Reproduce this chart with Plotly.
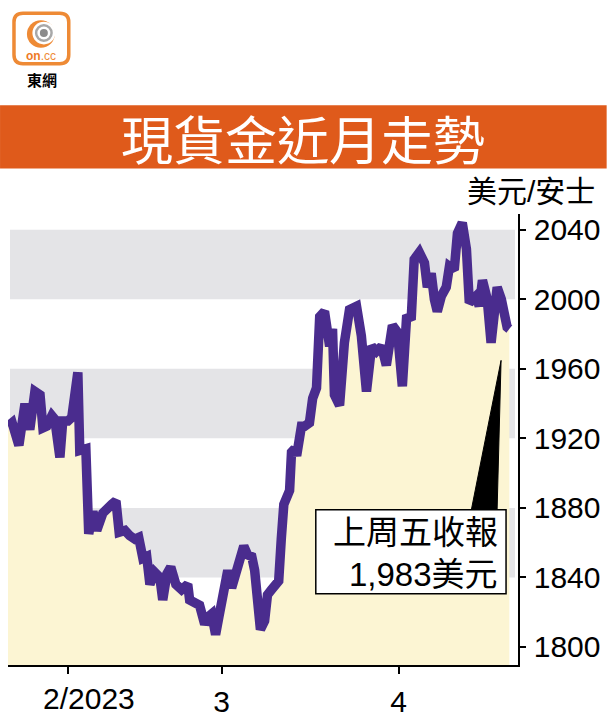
import plotly.graph_objects as go

# ---- data ----
times = [
    "2023-01-20 05:00", "2023-01-20 18:00", "2023-01-23 15:00", "2023-01-24 01:00", "2023-01-24 10:00",
    "2023-01-25 01:00", "2023-01-25 17:00", "2023-01-26 09:00", "2023-01-26 18:00", "2023-01-27 06:00",
    "2023-01-27 22:00", "2023-01-30 07:00", "2023-01-30 23:00", "2023-01-31 08:00", "2023-02-01 00:00",
    "2023-02-01 12:00", "2023-02-02 01:00", "2023-02-02 07:00", "2023-02-02 13:00", "2023-02-03 08:00",
    "2023-02-03 17:00", "2023-02-06 06:00", "2023-02-06 18:00", "2023-02-07 13:00", "2023-02-08 17:00",
    "2023-02-09 06:00", "2023-02-09 16:00", "2023-02-10 10:00", "2023-02-13 01:00", "2023-02-13 17:00",
    "2023-02-14 05:00", "2023-02-14 18:00", "2023-02-15 06:00", "2023-02-15 16:00", "2023-02-16 07:00",
    "2023-02-16 23:00", "2023-02-17 08:00", "2023-02-17 21:00", "2023-02-20 09:00", "2023-02-21 01:00",
    "2023-02-21 19:00", "2023-02-22 14:00", "2023-02-22 20:00", "2023-02-23 12:00", "2023-02-24 03:00",
    "2023-02-24 19:00", "2023-02-27 04:00", "2023-02-27 17:00", "2023-02-28 05:00", "2023-02-28 15:00",
    "2023-03-01 06:00", "2023-03-01 19:00", "2023-03-02 07:00", "2023-03-02 20:00", "2023-03-03 08:00",
    "2023-03-03 21:00", "2023-03-06 09:00", "2023-03-06 22:00", "2023-03-07 07:00", "2023-03-07 16:00",
    "2023-03-08 01:00", "2023-03-08 14:00", "2023-03-08 23:00", "2023-03-09 12:00", "2023-03-10 00:00",
    "2023-03-10 10:00", "2023-03-10 18:00", "2023-03-13 02:00", "2023-03-13 20:00", "2023-03-14 02:00",
    "2023-03-14 12:00", "2023-03-14 18:00", "2023-03-15 09:00", "2023-03-15 19:00", "2023-03-16 10:00",
    "2023-03-16 20:00", "2023-03-17 08:00", "2023-03-17 18:00", "2023-03-20 09:00", "2023-03-20 18:00",
    "2023-03-21 01:00", "2023-03-21 10:00", "2023-03-21 16:00", "2023-03-22 08:00", "2023-03-22 23:00",
    "2023-03-23 15:00", "2023-03-24 13:00", "2023-03-27 04:00", "2023-03-27 20:00", "2023-03-28 12:00",
    "2023-03-29 03:00", "2023-03-29 19:00", "2023-03-30 10:00", "2023-03-31 05:00", "2023-03-31 21:00",
    "2023-04-03 12:00", "2023-04-04 01:00", "2023-04-04 16:00", "2023-04-05 01:00", "2023-04-05 17:00",
    "2023-04-06 09:00", "2023-04-06 18:00", "2023-04-07 06:00", "2023-04-07 16:00", "2023-04-10 01:00",
    "2023-04-10 14:00", "2023-04-11 05:00", "2023-04-11 15:00", "2023-04-12 06:00", "2023-04-12 16:00",
    "2023-04-13 07:00", "2023-04-13 20:00", "2023-04-14 05:00", "2023-04-17 03:00", "2023-04-17 12:00",
    "2023-04-17 22:00", "2023-04-18 13:00", "2023-04-19 01:00", "2023-04-19 11:00", "2023-04-19 20:00",
    "2023-04-20 09:00", "2023-04-20 18:00", "2023-04-21 03:00", "2023-04-21 10:00",
]
prices = [
    1927, 1929, 1916, 1935, 1940,
    1925, 1947, 1945, 1926, 1927,
    1933, 1931, 1909, 1930, 1930,
    1932, 1955, 1958, 1913, 1914,
    1865, 1878, 1867, 1877, 1882,
    1884, 1866, 1867, 1864, 1862,
    1863, 1851, 1852, 1836, 1843,
    1840, 1827, 1842, 1846, 1836,
    1833, 1836, 1827, 1825, 1824,
    1813, 1817, 1819, 1807, 1817,
    1829, 1844, 1834, 1842, 1850,
    1858, 1853, 1852, 1844, 1817,
    1810, 1815, 1830, 1833, 1836,
    1838, 1862, 1882, 1890, 1912,
    1914, 1910, 1927, 1927, 1929,
    1943, 1949, 1990, 1993, 1981,
    1973, 1983, 1945, 1939, 1975,
    1994, 1996, 1979, 1947, 1973,
    1970, 1973, 1962, 1985, 1981,
    1950, 1989, 1990, 2023, 2027,
    2021, 2007, 2015, 2000, 1993,
    2002, 2007, 2019, 2017, 2038,
    2044, 2029, 1998, 2002, 1996,
    2011, 2000, 1975, 2002, 2007,
    2000, 1989, 1984, 1983,
]

x_tick_vals = ["2023-03-01", "2023-04-03"]
x_tick_text = ["3", "4"]
first_tick = "2023-02-01"
first_tick_label = "2/2023"
y_tick_vals = [1800, 1840, 1880, 1920, 1960, 2000, 2040]
bands = [(2000, 2040), (1920, 1960), (1840, 1880)]

title_text = "現貨金近月走勢"
unit_text = "美元/安士"
callout_line1 = "上周五收報"
callout_line2 = "1,983美元"

# ---- layout geometry (pixels) ----
W, H = 609, 726
L, R, T, B = 8, 520, 214, 670


def px(x):
    return (x - L) / (R - L)


def py(y):
    return (B - y) / (B - T)


LINE = "#4A2C8E"
FILL = "#FCF5D3"
BAND = "#E4E4E7"
ORANGE = "#DF5A1B"
FONT = "Liberation Sans, Arial, sans-serif"
CJK = "Noto Sans CJK TC, Noto Sans CJK SC, sans-serif"
MIX = "Liberation Sans, Noto Sans CJK TC, sans-serif"

fig = go.Figure()
fig.add_trace(go.Scatter(
    x=times, y=prices, mode="lines",
    line=dict(color=LINE, width=9.5),
    fill="tozeroy", fillcolor=FILL,
    hoverinfo="skip", showlegend=False,
))

shapes = []
for lo, hi in bands:
    shapes.append(dict(type="rect", xref="paper", yref="y", x0=px(10), x1=px(517), y0=lo, y1=hi,
                       fillcolor=BAND, line=dict(width=0), layer="below"))

# title bar
shapes.append(dict(type="rect", xref="paper", yref="paper", x0=px(0), x1=px(W), y0=py(168), y1=py(104),
                   fillcolor=ORANGE, line=dict(width=0)))

# callout pointer and box
shapes.append(dict(type="path", xref="paper", yref="paper",
                   path=f"M {px(473)} {py(514)} L {px(499)} {py(514)} L {px(503)} {py(362)} Z",
                   fillcolor="black", line=dict(color="black", width=1)))
shapes.append(dict(type="rect", xref="paper", yref="paper", x0=px(317), x1=px(508), y0=py(598), y1=py(513),
                   fillcolor="white", line=dict(color="black", width=1.5)))

# logo
def rounded_rect(x0, y0, x1, y1, r):
    return (f"M {px(x0 + r)} {py(y0)} L {px(x1 - r)} {py(y0)} "
            f"Q {px(x1)} {py(y0)} {px(x1)} {py(y0 + r)} L {px(x1)} {py(y1 - r)} "
            f"Q {px(x1)} {py(y1)} {px(x1 - r)} {py(y1)} L {px(x0 + r)} {py(y1)} "
            f"Q {px(x0)} {py(y1)} {px(x0)} {py(y1 - r)} L {px(x0)} {py(y0 + r)} "
            f"Q {px(x0)} {py(y0)} {px(x0 + r)} {py(y0)} Z")

shapes.append(dict(type="path", xref="paper", yref="paper", path=rounded_rect(14, 11, 69, 62, 9),
                   fillcolor="white", line=dict(color="#EE8A35", width=3.5)))


def circ(cx, cy, r, fill, line=None):
    return dict(type="circle", xref="paper", yref="paper",
                x0=px(cx - r), x1=px(cx + r), y0=py(cy + r), y1=py(cy - r),
                fillcolor=fill, line=line or dict(width=0))

shapes.append(circ(41, 32, 14, "#EE8A35"))
shapes.append(circ(44, 31, 11.5, "white"))
shapes.append(circ(44, 31, 9, "#A8A8A8"))
shapes.append(circ(44, 31, 6.5, "white"))
shapes.append(circ(44, 31, 4, "#8C8C8C"))

annotations = [
    dict(text=title_text, xref="paper", yref="paper", x=px(304), y=py(137), showarrow=False,
         xanchor="center", yanchor="middle", font=dict(family=CJK, size=52, color="white")),
    dict(text=unit_text, xref="paper", yref="paper", x=px(599), y=py(191), showarrow=False,
         xanchor="right", yanchor="middle", font=dict(family=MIX, size=30, color="black")),
    dict(text=callout_line1, xref="paper", yref="paper", x=px(502), y=py(534), showarrow=False,
         xanchor="right", yanchor="middle", font=dict(family=CJK, size=33, color="black")),
    dict(text=callout_line2, xref="paper", yref="paper", x=px(502), y=py(578), showarrow=False,
         xanchor="right", yanchor="middle", font=dict(family=MIX, size=33, color="black")),
    dict(text=first_tick_label, xref="x", yref="paper", x=first_tick, y=py(704), xshift=21,
         showarrow=False, xanchor="center", yanchor="middle",
         font=dict(family=FONT, size=30, color="black")),
    dict(text="<b>on</b><span style='color:#EE8A35'>.cc</span>", xref="paper", yref="paper",
         x=px(41), y=py(54), showarrow=False, xanchor="center", yanchor="middle",
         font=dict(family="Liberation Sans, Arial", size=12, color="#EE7A25")),
    dict(text="<b>東網</b>", xref="paper", yref="paper", x=px(42), y=py(78), showarrow=False,
         xanchor="center", yanchor="middle", font=dict(family=CJK, size=15, color="black")),
]

fig.update_layout(
    width=W, height=H,
    margin=dict(l=L, r=W - R, t=T, b=H - B, pad=0),
    paper_bgcolor="white", plot_bgcolor="rgba(0,0,0,0)",
    shapes=shapes, annotations=annotations,
    showlegend=False,
)

fig.update_xaxes(
    type="date",
    range=["2023-01-20 05:00", "2023-04-24 13:00"],
    rangebreaks=[dict(bounds=["sat", "mon"])],
    tickmode="array",
    tickvals=[first_tick] + x_tick_vals,
    ticktext=[""] + x_tick_text,
    ticks="outside", ticklen=7, tickwidth=1.5, tickcolor="black",
    showline=True, linecolor="black", linewidth=1.5,
    showgrid=False, zeroline=False,
    tickfont=dict(family=FONT, size=30, color="black"),
    ticklabelstandoff=2,
    fixedrange=True,
)
fig.update_yaxes(
    side="right",
    range=[1789.6, 2049.1],
    tickmode="array", tickvals=y_tick_vals,
    ticks="outside", ticklen=6, tickwidth=1.5, tickcolor="black",
    showline=True, linecolor="black", linewidth=1.5,
    showgrid=False, zeroline=False,
    tickfont=dict(family=FONT, size=30, color="black"),
    ticklabelstandoff=2,
    fixedrange=True,
)

fig.write_html("out.html")
